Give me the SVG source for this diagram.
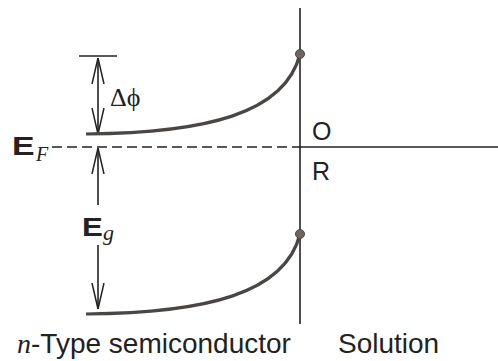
<svg xmlns="http://www.w3.org/2000/svg" width="498" height="361" viewBox="0 0 498 361">
<defs>
<style>
.ln{stroke:#222;stroke-width:1.6;fill:none}
.band{stroke:#4a4644;stroke-width:3.2;fill:none;stroke-linecap:butt}
.dot{fill:#6e6560;stroke:#4a4644;stroke-width:1}
.sans{font-family:"Liberation Sans",Arial,sans-serif;fill:#222}
.serif{font-family:"Liberation Serif","Times New Roman",serif;fill:#222}
</style>
<marker id="ah" viewBox="0 0 26 14" refX="26" refY="7" markerWidth="26" markerHeight="14" markerUnits="userSpaceOnUse" orient="auto">
<path d="M0,1 L26,7 L0,13" fill="none" stroke="#222" stroke-width="1.5"/>
</marker>
</defs>
<g id="connectors">
<line class="ln" x1="300" y1="8" x2="300" y2="324"/>
<line class="ln" x1="300" y1="147" x2="498" y2="147"/>
<line class="ln" x1="52" y1="147" x2="300" y2="147" stroke-dasharray="10 5"/>
<line class="ln" x1="79" y1="56" x2="117" y2="56"/>
<line class="ln" x1="98" y1="96" x2="98" y2="58" marker-end="url(#ah)"/>
<line class="ln" x1="98" y1="96" x2="98" y2="134" marker-end="url(#ah)"/>
<line class="ln" x1="98" y1="205" x2="98" y2="148" marker-end="url(#ah)"/>
<line class="ln" x1="98" y1="245" x2="98" y2="309" marker-end="url(#ah)"/>
</g>
<g id="conduction-band">
<path class="band" d="M86,134 C205,133 285,114 300,54"/>
<circle class="dot" cx="300" cy="54" r="4.5"/>
</g>
<g id="valence-band">
<path class="band" d="M86,314 C205,313 285,294 300,234"/>
<circle class="dot" cx="300" cy="234" r="4.5"/>
</g>
<g id="labels">
<text class="sans" transform="translate(12,155) scale(1.35,1)" font-size="25" font-weight="bold">E</text>
<text class="serif" x="36" y="161" font-size="20" font-style="italic">F</text>
<text class="serif" x="110" y="106" font-size="26">Δϕ</text>
<text class="sans" transform="translate(82,236) scale(1.25,1)" font-size="25" font-weight="bold">E</text>
<text class="serif" x="103" y="240" font-size="22" font-style="italic">g</text>
<text class="sans" x="312" y="140" font-size="25">O</text>
<text class="sans" x="312" y="180" font-size="25">R</text>
<text x="17" y="353" font-size="28"><tspan class="serif" font-style="italic">n</tspan><tspan class="sans">-Type semiconductor</tspan></text>
<text class="sans" x="338" y="353" font-size="28">Solution</text>
</g>
</svg>
